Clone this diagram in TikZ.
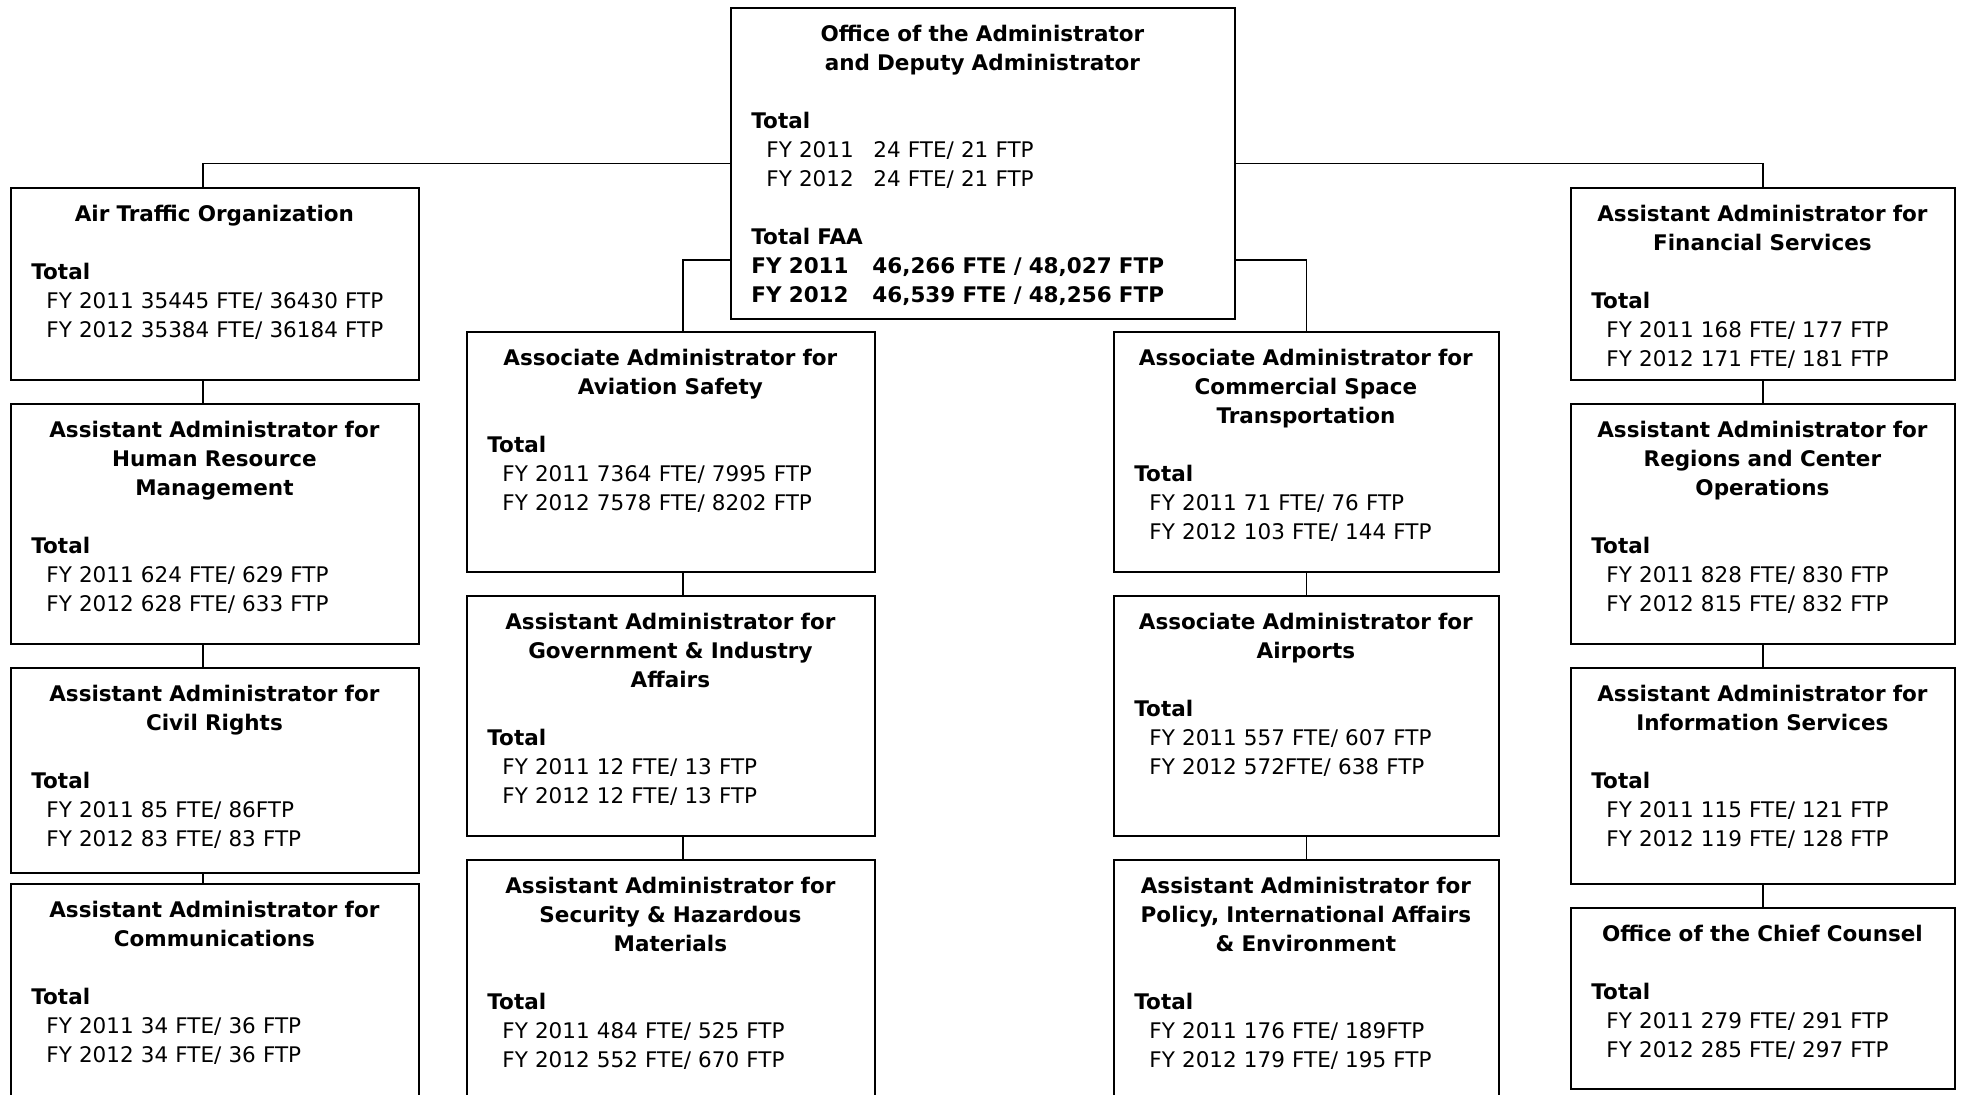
\documentclass[tikz,border=0pt]{standalone}
\usepackage{fontspec}
\setmainfont{DejaVu Sans}
\usepackage{tikz}
\setlength{\parindent}{0pt}

\newcommand{\orgtext}[3]{{\centering\bfseries\rule{0pt}{17.25pt}#1\par}\vspace{14.5pt}{\bfseries Total}\\\hspace*{7.5pt}#2\\\hspace*{7.5pt}#3}

\begin{document}
\begin{tikzpicture}[x = 0.5pt, y = -0.5pt, font = \fontsize{10.75}{14.5}\selectfont,
        orgbox/.style = {draw, line width = 1pt, inner sep = 0pt, anchor = north west},
        orgtxt/.style = {inner sep = 0pt, anchor = north west, xshift = 10.5pt, text width = #1},
        link/.style = {line width = 0.9pt}]
        \useasboundingbox (0,0) rectangle (1963,1095);

        % office of the administrator
        \node [orgbox, minimum width = 252pt, minimum height = 155.5pt] (top) at (730,7) {};
        \node [orgtxt = 231pt] (top-t) at (top.north west) {{\centering\bfseries\rule{0pt}{17.25pt}Office of the Administrator\\and Deputy Administrator\par}\vspace{14.5pt}{\bfseries Total}\\
        \hspace*{7.5pt}\makebox[53.5pt][l]{FY 2011}24 FTE/ 21 FTP\\
        \hspace*{7.5pt}\makebox[53.5pt][l]{FY 2012}24 FTE/ 21 FTP\par\vspace{14.5pt}
        {\bfseries Total FAA\\
        \makebox[60.5pt][l]{FY 2011}46,266 FTE / 48,027 FTP\\
        \makebox[60.5pt][l]{FY 2012}46,539 FTE / 48,256 FTP}};

        % left column
        \node [orgbox, minimum width = 204pt, minimum height = 96pt] (ato) at (10,187) {};
        \node [orgtxt = 183pt] (ato-t) at (ato.north west) {\orgtext{Air Traffic Organization}{FY 2011 35445 FTE/ 36430 FTP}{FY 2012 35384 FTE/ 36184 FTP}};
        \node [orgbox, minimum width = 204pt, minimum height = 120pt] (hrm) at (10,403) {};
        \node [orgtxt = 183pt] (hrm-t) at (hrm.north west) {\orgtext{Assistant Administrator for\\Human Resource\\Management}{FY 2011 624 FTE/ 629 FTP}{FY 2012 628 FTE/ 633 FTP}};
        \node [orgbox, minimum width = 204pt, minimum height = 102.5pt] (civ) at (10,667) {};
        \node [orgtxt = 183pt] (civ-t) at (civ.north west) {\orgtext{Assistant Administrator for\\Civil Rights}{FY 2011 85 FTE/ 86FTP}{FY 2012 83 FTE/ 83 FTP}};
        \node [orgbox, minimum width = 204pt, minimum height = 113.5pt] (com) at (10,883) {};
        \node [orgtxt = 183pt] (com-t) at (com.north west) {\orgtext{Assistant Administrator for\\Communications}{FY 2011 34 FTE/ 36 FTP}{FY 2012 34 FTE/ 36 FTP}};

        % middle left column
        \node [orgbox, minimum width = 204pt, minimum height = 120pt] (avs) at (466,331) {};
        \node [orgtxt = 183pt] (avs-t) at (avs.north west) {\orgtext{Associate Administrator for\\Aviation Safety}{FY 2011 7364 FTE/ 7995 FTP}{FY 2012 7578 FTE/ 8202 FTP}};
        \node [orgbox, minimum width = 204pt, minimum height = 120pt] (gov) at (466,595) {};
        \node [orgtxt = 183pt] (gov-t) at (gov.north west) {\orgtext{Assistant Administrator for\\Government \& Industry\\Affairs}{FY 2011 12 FTE/ 13 FTP}{FY 2012 12 FTE/ 13 FTP}};
        \node [orgbox, minimum width = 204pt, minimum height = 125.5pt] (sec) at (466,859) {};
        \node [orgtxt = 183pt] (sec-t) at (sec.north west) {\orgtext{Assistant Administrator for\\Security \& Hazardous\\Materials}{FY 2011 484 FTE/ 525 FTP}{FY 2012 552 FTE/ 670 FTP}};

        % middle right column
        \node [orgbox, minimum width = 192.5pt, minimum height = 120pt] (cst) at (1113,331) {};
        \node [orgtxt = 171.5pt] (cst-t) at (cst.north west) {\orgtext{Associate Administrator for\\Commercial Space\\Transportation}{FY 2011 71 FTE/ 76 FTP}{FY 2012 103 FTE/ 144 FTP}};
        \node [orgbox, minimum width = 192.5pt, minimum height = 120pt] (arp) at (1113,595) {};
        \node [orgtxt = 171.5pt] (arp-t) at (arp.north west) {\orgtext{Associate Administrator for\\Airports}{FY 2011 557 FTE/ 607 FTP}{FY 2012 572FTE/ 638 FTP}};
        \node [orgbox, minimum width = 192.5pt, minimum height = 125.5pt] (pol) at (1113,859) {};
        \node [orgtxt = 171.5pt] (pol-t) at (pol.north west) {\orgtext{Assistant Administrator for\\Policy, International Affairs\\\& Environment}{FY 2011 176 FTE/ 189FTP}{FY 2012 179 FTE/ 195 FTP}};

        % right column
        \node [orgbox, minimum width = 192pt, minimum height = 96pt] (fin) at (1570,187) {};
        \node [orgtxt = 171pt] (fin-t) at (fin.north west) {\orgtext{Assistant Administrator for\\Financial Services}{FY 2011 168 FTE/ 177 FTP}{FY 2012 171 FTE/ 181 FTP}};
        \node [orgbox, minimum width = 192pt, minimum height = 120pt] (rco) at (1570,403) {};
        \node [orgtxt = 171pt] (rco-t) at (rco.north west) {\orgtext{Assistant Administrator for\\Regions and Center\\Operations}{FY 2011 828 FTE/ 830 FTP}{FY 2012 815 FTE/ 832 FTP}};
        \node [orgbox, minimum width = 192pt, minimum height = 108pt] (ins) at (1570,667) {};
        \node [orgtxt = 171pt] (ins-t) at (ins.north west) {\orgtext{Assistant Administrator for\\Information Services}{FY 2011 115 FTE/ 121 FTP}{FY 2012 119 FTE/ 128 FTP}};
        \node [orgbox, minimum width = 192pt, minimum height = 90.5pt] (occ) at (1570,907) {};
        \node [orgtxt = 171pt] (occ-t) at (occ.north west) {\orgtext{Office of the Chief Counsel}{FY 2011 279 FTE/ 291 FTP}{FY 2012 285 FTE/ 297 FTP}};

        % links
        \draw [link] ([xshift = -6pt]ato.north) |- (top.west);
        \draw [link] (fin.north) |- (top.east);
        \draw [link] ([yshift = 30pt]top.south west) -| ([xshift = 6pt]avs.north);
        \draw [link] ([yshift = 30pt]top.south east) -| (cst.north);

        \draw [link] ([xshift = -6pt]ato.south) -- ([xshift = -6pt]hrm.north);
        \draw [link] ([xshift = -6pt]hrm.south) -- ([xshift = -6pt]civ.north);
        \draw [link] ([xshift = -6pt]civ.south) -- ([xshift = -6pt]com.north);

        \draw [link] ([xshift = 6pt]avs.south) -- ([xshift = 6pt]gov.north);
        \draw [link] ([xshift = 6pt]gov.south) -- ([xshift = 6pt]sec.north);

        \draw [link] (cst.south) -- (arp.north);
        \draw [link] (arp.south) -- (pol.north);

        \draw [link] (fin.south) -- (rco.north);
        \draw [link] (rco.south) -- (ins.north);
        \draw [link] (ins.south) -- (occ.north);
    \end{tikzpicture}
\end{document}
